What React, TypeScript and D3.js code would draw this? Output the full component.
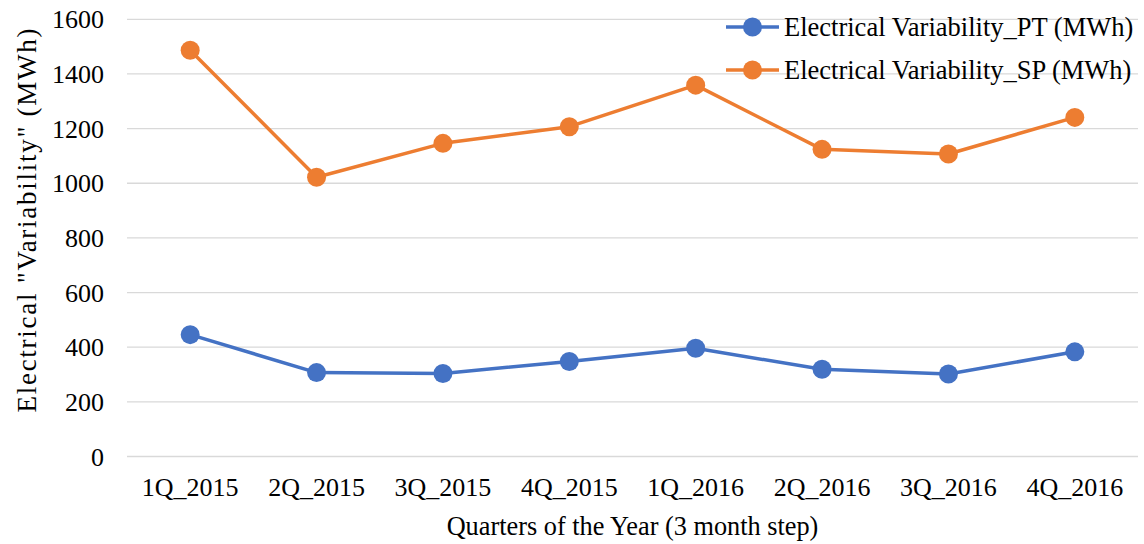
import React from "react";
import * as d3 from "d3";

const categories = ["1Q_2015", "2Q_2015", "3Q_2015", "4Q_2015", "1Q_2016", "2Q_2016", "3Q_2016", "4Q_2016"];
const ptValues = [446, 307, 304, 348, 396, 319, 302, 383];
const spValues = [1487, 1022, 1146, 1207, 1359, 1124, 1107, 1241];
const yTicks = [0, 200, 400, 600, 800, 1000, 1200, 1400, 1600];
const seriesNames = ["Electrical Variability_PT (MWh)", "Electrical Variability_SP (MWh)"];
const seriesColors = ["#4472C4", "#ED7D31"];

const W = 1144;
const H = 544;
const left = 127;
const right = 1138;
const top = 19.3;
const bottom = 456.5;
const font = "Liberation Serif, Times New Roman, serif";

export default function App() {
  const x = d3.scaleBand<string>().domain(categories).range([left, right]);
  const y = d3.scaleLinear().domain([0, 1600]).range([bottom, top]);
  const cx = (c: string) => (x(c) as number) + x.bandwidth() / 2;
  const line = d3
    .line<number>()
    .x((_, i) => cx(categories[i]))
    .y((d) => y(d));
  const series = [ptValues, spValues];
  const ts = (size: number) => ({ fontFamily: font, fontSize: size });

  return (
    <svg width={W} height={H} style={{ position: "absolute", left: 0, top: 0, background: "#fff" }}>
      <rect x={0} y={0} width={W} height={H} fill="#fff" />
      {yTicks.map((t) => (
        <g key={t}>
          <line x1={left} x2={right} y1={y(t)} y2={y(t)} stroke="#d9d9d9" strokeWidth={1.3} />
          <text x={104} y={y(t)} dy="0.35em" textAnchor="end" style={ts(26)} fill="#000">
            {t}
          </text>
        </g>
      ))}
      {categories.map((c) => (
        <text key={c} x={cx(c)} y={496} textAnchor="middle" style={ts(26)} fill="#000">
          {c}
        </text>
      ))}
      <text x={(left + right) / 2} y={535} textAnchor="middle" style={ts(26.3)} fill="#000">
        Quarters of the Year (3 month step)
      </text>
      <text
        transform={`translate(27, 220.5) rotate(-90)`}
        dy="0.35em"
        textAnchor="middle"
        style={ts(27)}
        textLength={384}
        lengthAdjust="spacing"
        fill="#000"
      >
        Electrical "Variability" (MWh)
      </text>
      {series.map((vals, si) => (
        <g key={si}>
          <path d={line(vals) || ""} fill="none" stroke={seriesColors[si]} strokeWidth={3.5} strokeLinejoin="round" />
          {vals.map((v, i) => (
            <circle key={i} cx={cx(categories[i])} cy={y(v)} r={9.5} fill={seriesColors[si]} />
          ))}
        </g>
      ))}
      {seriesNames.map((name, si) => {
        const ly = 27 + si * 43;
        return (
          <g key={name}>
            <line x1={726} x2={779} y1={ly} y2={ly} stroke={seriesColors[si]} strokeWidth={3.5} />
            <circle cx={752.5} cy={ly} r={9.5} fill={seriesColors[si]} />
            <text x={784} y={ly} dy="0.35em" style={ts(26.5)} fill="#000">
              {name}
            </text>
          </g>
        );
      })}
    </svg>
  );
}
